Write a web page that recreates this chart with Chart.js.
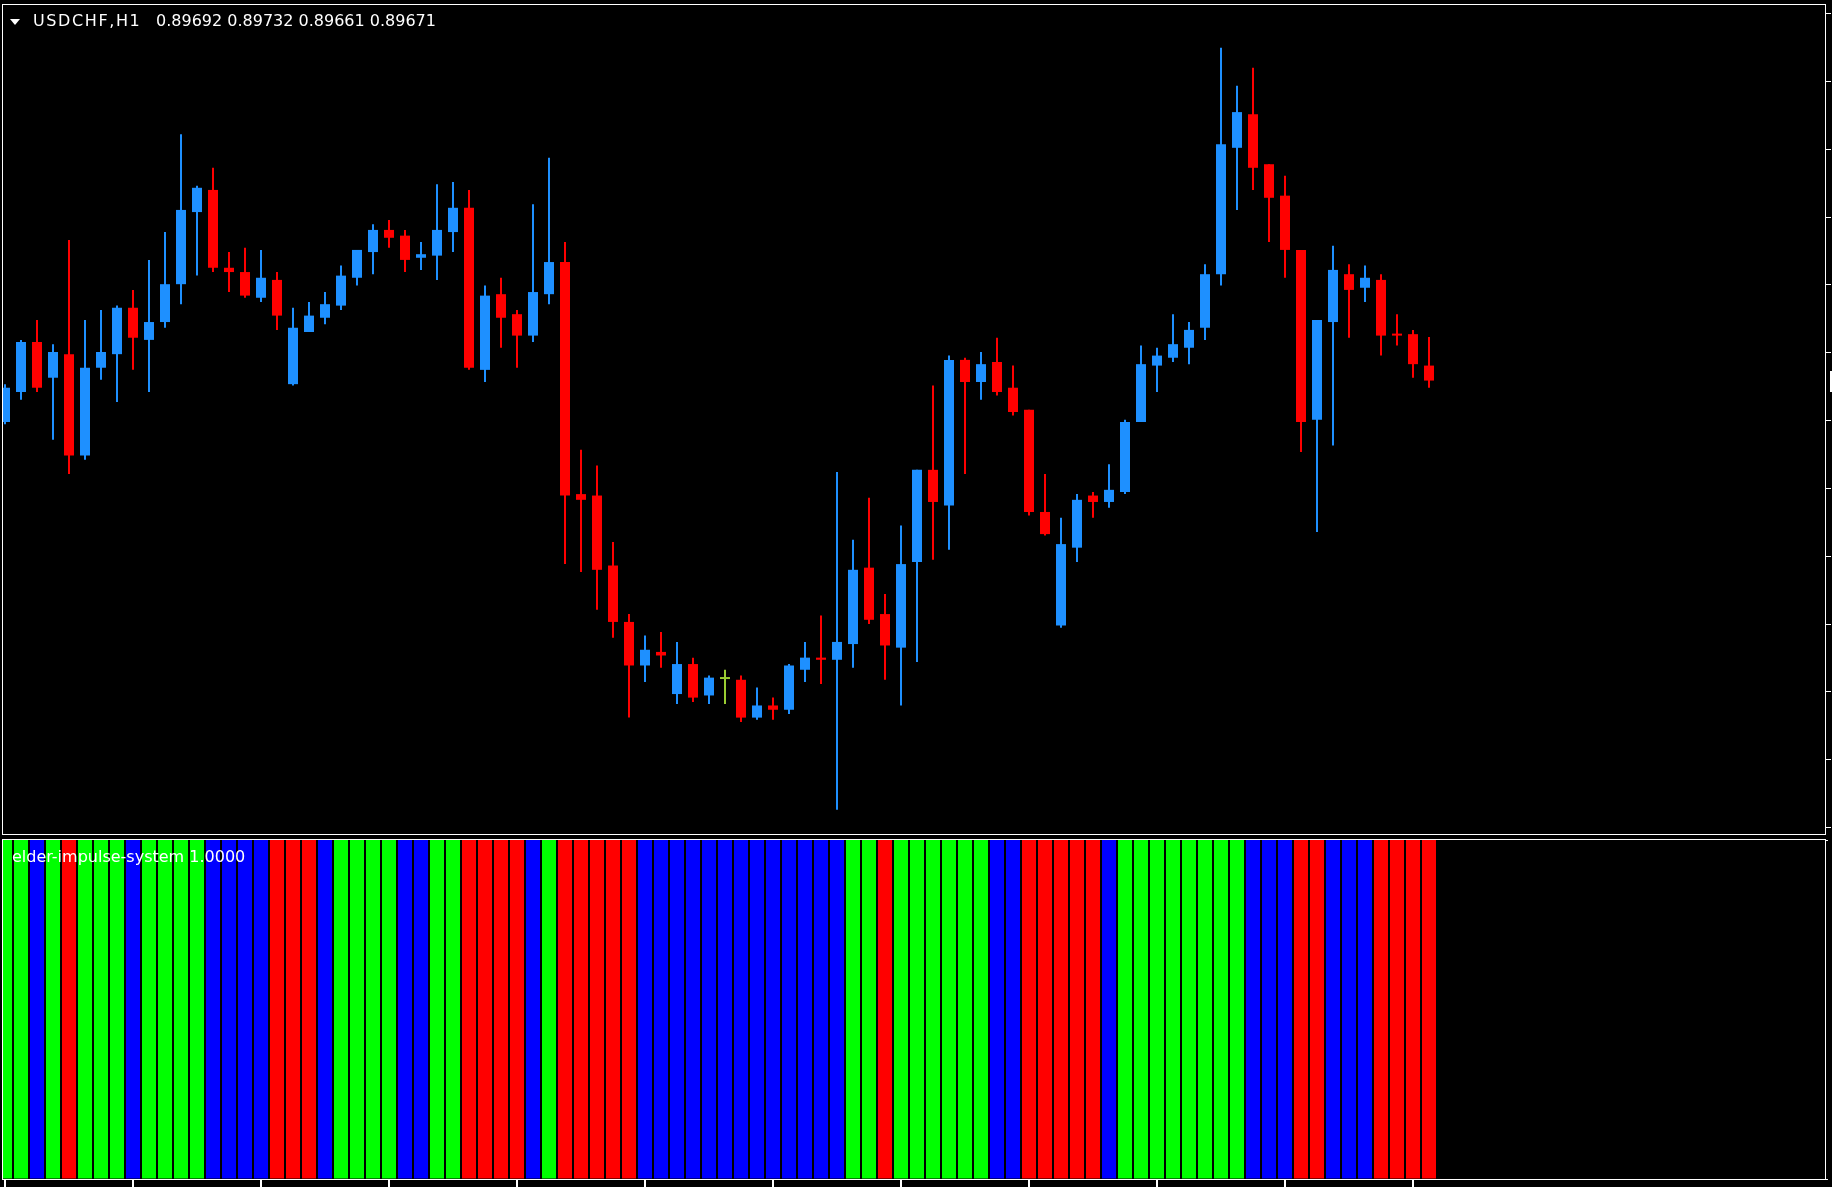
<!DOCTYPE html>
<html>
<head>
<meta charset="utf-8">
<title>USDCHF,H1 - elder-impulse-system</title>
<script src="https://cdn.jsdelivr.net/npm/chart.js@4.4.1/dist/chart.umd.min.js"></script>
<style>
  html, body { margin: 0; padding: 0; background: #000; overflow: hidden; }
  #wrap { position: relative; width: 1832px; height: 1187px; background: #000; }
  #priceBox { position: absolute; left: 0; top: 0; width: 1832px; height: 836px; }
  #impulseBox { position: absolute; left: 0; top: 836px; width: 1832px; height: 351px; }
  .lbl { position: absolute; color: #fff; font-family: "DejaVu Sans", sans-serif; font-size: 16px; line-height: 16px; white-space: pre; z-index: 5; }
  #arrow { position: absolute; left: 10px; top: 19px; width: 0; height: 0; z-index: 5;
           border-left: 5px solid transparent; border-right: 5px solid transparent; border-top: 6px solid #fff; }
</style>
</head>
<body>
<div id="wrap">
  <div id="priceBox"><canvas id="priceChart"></canvas></div>
  <div id="impulseBox"><canvas id="impulseChart"></canvas></div>
  <div id="arrow"></div>
  <div class="lbl" id="symbol" style="left:33px; top:13px; letter-spacing:1.6px;"></div>
  <div class="lbl" id="ohlc" style="left:156px; top:13px;"></div>
  <div class="lbl" id="indName" style="left:12px; top:849px;"></div>
</div>
<script>
// USDCHF H1, 90 bars, oldest first
const symbolName = 'USDCHF,H1';
const openPrices = [
  0.89613, 0.89655, 0.89725, 0.89675, 0.89708, 0.89566, 0.89689, 0.89708, 0.89773, 0.89728,
  0.89753, 0.89806, 0.89907, 0.89938, 0.89829, 0.89823, 0.89787, 0.89812, 0.89666, 0.89739,
  0.89759, 0.89776, 0.89815, 0.89851, 0.89882, 0.89874, 0.89843, 0.89846, 0.89879, 0.89913,
  0.89686, 0.89792, 0.89764, 0.89734, 0.89792, 0.89837, 0.89512, 0.89510, 0.89412, 0.89333,
  0.89272, 0.89291, 0.89232, 0.89274, 0.89230, 0.89253, 0.89252, 0.89199, 0.89216, 0.89210,
  0.89266, 0.89283, 0.89280, 0.89302, 0.89409, 0.89344, 0.89297, 0.89417, 0.89546, 0.89496,
  0.89700, 0.89669, 0.89697, 0.89661, 0.89630, 0.89487, 0.89328, 0.89437, 0.89510, 0.89501,
  0.89515, 0.89613, 0.89692, 0.89703, 0.89717, 0.89745, 0.89820, 0.89997, 0.90044, 0.89974,
  0.89930, 0.89854, 0.89616, 0.89753, 0.89820, 0.89801, 0.89812, 0.89736, 0.89736, 0.89692
];
const highPrices = [
  0.89666, 0.89728, 0.89756, 0.89722, 0.89868, 0.89756, 0.89770, 0.89776, 0.89798, 0.89840,
  0.89879, 0.90016, 0.89944, 0.89969, 0.89851, 0.89857, 0.89854, 0.89823, 0.89773, 0.89781,
  0.89795, 0.89832, 0.89854, 0.89890, 0.89896, 0.89882, 0.89865, 0.89946, 0.89949, 0.89938,
  0.89804, 0.89815, 0.89770, 0.89918, 0.89983, 0.89865, 0.89574, 0.89552, 0.89445, 0.89344,
  0.89314, 0.89319, 0.89305, 0.89283, 0.89258, 0.89266, 0.89258, 0.89241, 0.89227, 0.89274,
  0.89305, 0.89342, 0.89543, 0.89448, 0.89507, 0.89372, 0.89468, 0.89546, 0.89664, 0.89706,
  0.89703, 0.89711, 0.89731, 0.89692, 0.89630, 0.89540, 0.89479, 0.89512, 0.89515, 0.89554,
  0.89616, 0.89720, 0.89717, 0.89764, 0.89753, 0.89834, 0.90137, 0.90084, 0.90109, 0.89974,
  0.89958, 0.89854, 0.89756, 0.89860, 0.89834, 0.89832, 0.89820, 0.89764, 0.89742, 0.89732
];
const lowPrices = [
  0.89610, 0.89644, 0.89655, 0.89588, 0.89540, 0.89560, 0.89672, 0.89641, 0.89686, 0.89655,
  0.89745, 0.89778, 0.89818, 0.89823, 0.89795, 0.89787, 0.89781, 0.89742, 0.89664, 0.89739,
  0.89750, 0.89770, 0.89804, 0.89820, 0.89857, 0.89823, 0.89826, 0.89812, 0.89851, 0.89686,
  0.89669, 0.89717, 0.89689, 0.89725, 0.89778, 0.89414, 0.89403, 0.89350, 0.89311, 0.89199,
  0.89249, 0.89269, 0.89218, 0.89221, 0.89218, 0.89218, 0.89193, 0.89196, 0.89196, 0.89204,
  0.89249, 0.89246, 0.89070, 0.89269, 0.89330, 0.89252, 0.89216, 0.89277, 0.89420, 0.89434,
  0.89540, 0.89644, 0.89650, 0.89622, 0.89482, 0.89454, 0.89325, 0.89417, 0.89479, 0.89493,
  0.89512, 0.89613, 0.89655, 0.89697, 0.89694, 0.89728, 0.89804, 0.89910, 0.89938, 0.89865,
  0.89815, 0.89571, 0.89459, 0.89580, 0.89731, 0.89781, 0.89706, 0.89720, 0.89675, 0.89661
];
const closePrices = [
  0.89661, 0.89725, 0.89661, 0.89711, 0.89566, 0.89689, 0.89711, 0.89773, 0.89731, 0.89753,
  0.89806, 0.89910, 0.89941, 0.89829, 0.89823, 0.89790, 0.89815, 0.89762, 0.89745, 0.89762,
  0.89778, 0.89818, 0.89854, 0.89882, 0.89871, 0.89840, 0.89848, 0.89882, 0.89913, 0.89689,
  0.89790, 0.89759, 0.89734, 0.89795, 0.89837, 0.89510, 0.89504, 0.89406, 0.89333, 0.89272,
  0.89294, 0.89286, 0.89274, 0.89227, 0.89255, 0.89253, 0.89199, 0.89216, 0.89210, 0.89272,
  0.89283, 0.89280, 0.89305, 0.89406, 0.89336, 0.89300, 0.89414, 0.89546, 0.89501, 0.89700,
  0.89669, 0.89694, 0.89655, 0.89627, 0.89487, 0.89456, 0.89442, 0.89504, 0.89501, 0.89518,
  0.89613, 0.89694, 0.89706, 0.89722, 0.89742, 0.89820, 0.90002, 0.90047, 0.89969, 0.89927,
  0.89854, 0.89613, 0.89756, 0.89826, 0.89798, 0.89815, 0.89734, 0.89734, 0.89694, 0.89671
];

// elder impulse system: 1 = bull (green), 0 = neutral (blue), -1 = bear (red)
const impulseName = 'elder-impulse-system';
const impulseValue = 1.0;
const impulseState = [
   1,  1,  0,  1, -1,  1,  1,  1,  0,  1,
   1,  1,  1,  0,  0,  0,  0, -1, -1, -1,
   0,  1,  1,  1,  1,  0,  0,  1,  1, -1,
  -1, -1, -1,  0,  1, -1, -1, -1, -1, -1,
   0,  0,  0,  0,  0,  0,  0,  0,  0,  0,
   0,  0,  0,  1,  1, -1,  1,  1,  1,  1,
   1,  1,  0,  0, -1, -1, -1, -1, -1,  0,
   1,  1,  1,  1,  1,  1,  1,  1,  0,  0,
   0, -1, -1,  0,  0,  0, -1, -1, -1, -1
];

// price scale ticks (labels sit off the right edge) and time ticks every 8 bars
const priceTicks = [0.90185, 0.90090, 0.89995, 0.89900, 0.89805, 0.89710, 0.89615,
                    0.89520, 0.89425, 0.89330, 0.89235, 0.89140, 0.89045];
const timeTickBars = [0, 8, 16, 24, 32, 40, 48, 56, 64, 72, 80, 88];

const upColor = '#1e90ff';
const downColor = '#ff0000';
const dojiColor = '#9acd32';
const impulseColors = { '1': '#00ff00', '0': '#0000ff', '-1': '#ff0000' };

const barIdx = openPrices.map((_, i) => i);
const candleColors = barIdx.map(i =>
  closePrices[i] > openPrices[i] ? upColor : (closePrices[i] < openPrices[i] ? downColor : dojiColor));

// visible bar window: bar 0 sits 2px right of the pane edge, 16px per bar
const xMin = -0.125;
const xMax = 113.75;

// white frame around each pane
const paneFrame = {
  id: 'paneFrame',
  afterDraw(chart) {
    const a = chart.chartArea;
    const c = chart.ctx;
    c.save();
    c.strokeStyle = '#ffffff';
    c.lineWidth = 1;
    c.strokeRect(a.left - 0.5, a.top - 0.5, a.right - a.left + 1, a.bottom - a.top + 1);
    c.restore();
  }
};

// bid label stub at the right edge
const bidMarker = {
  id: 'bidMarker',
  afterDraw(chart) {
    const y = chart.scales.y.getPixelForValue(closePrices[closePrices.length - 1]);
    const c = chart.ctx;
    c.save();
    c.fillStyle = '#ffffff';
    c.fillRect(chart.chartArea.right + 5, Math.round(y) - 10, 4, 21);
    c.restore();
  }
};

Chart.defaults.animation = false;
Chart.defaults.font.family = 'DejaVu Sans';

new Chart(document.getElementById('priceChart'), {
  type: 'bar',
  data: {
    datasets: [
      {
        label: 'body',
        data: barIdx.map(i => ({ x: i, y: [openPrices[i], closePrices[i]] })),
        backgroundColor: candleColors,
        barThickness: 10,
        minBarLength: 2,
        grouped: false,
        borderWidth: 0,
        inflateAmount: 0
      },
      {
        label: 'wick',
        data: barIdx.map(i => ({ x: i, y: [lowPrices[i], highPrices[i]] })),
        backgroundColor: candleColors,
        barThickness: 2,
        grouped: false,
        borderWidth: 0,
        inflateAmount: 0
      }
    ]
  },
  options: {
    responsive: true,
    maintainAspectRatio: false,
    layout: { padding: { left: 3, top: 5, right: 0, bottom: 2 } },
    plugins: { legend: { display: false }, tooltip: { enabled: false } },
    scales: {
      x: { type: 'linear', min: xMin, max: xMax, offset: false, display: false },
      y: {
        position: 'right',
        min: 0.89036,
        max: 0.90197,
        border: { display: false },
        grid: { drawOnChartArea: false, drawTicks: true, tickLength: 6, color: '#ffffff', lineWidth: 1 },
        ticks: { display: false },
        afterBuildTicks: scale => { scale.ticks = priceTicks.map(v => ({ value: v })); },
        afterFit: scale => { scale.width = 7; }
      }
    }
  },
  plugins: [paneFrame, bidMarker]
});

new Chart(document.getElementById('impulseChart'), {
  type: 'bar',
  data: {
    datasets: [{
      label: impulseName,
      data: barIdx.map(i => ({ x: i, y: impulseValue })),
      backgroundColor: impulseState.map(s => impulseColors[String(s)]),
      barThickness: 14,
      borderWidth: 0,
      inflateAmount: 0
    }]
  },
  options: {
    responsive: true,
    maintainAspectRatio: false,
    layout: { padding: { left: 3, top: 4, right: 0, bottom: 0 } },
    plugins: { legend: { display: false }, tooltip: { enabled: false } },
    scales: {
      x: {
        type: 'linear',
        min: xMin,
        max: xMax,
        offset: false,
        position: 'bottom',
        border: { display: false },
        grid: { offset: false, drawOnChartArea: false, drawTicks: true, tickLength: 8, color: '#ffffff', lineWidth: 2 },
        ticks: { display: false },
        afterBuildTicks: scale => { scale.ticks = timeTickBars.map(v => ({ value: v })); },
        afterFit: scale => { scale.height = 8; }
      },
      y: {
        position: 'right',
        min: 0,
        max: 1,
        border: { display: false },
        grid: { drawOnChartArea: false, drawTicks: true, tickLength: 3, color: '#ffffff', lineWidth: 1 },
        ticks: { display: false },
        afterBuildTicks: scale => { scale.ticks = [{ value: 0 }, { value: 1 }]; },
        afterFit: scale => { scale.width = 7; }
      }
    }
  },
  plugins: [paneFrame]
});

// captions
const last = openPrices.length - 1;
document.getElementById('symbol').textContent = symbolName;
document.getElementById('ohlc').textContent =
  [openPrices[last], highPrices[last], lowPrices[last], closePrices[last]].map(v => v.toFixed(5)).join(' ');
document.getElementById('indName').textContent = impulseName + ' ' + impulseValue.toFixed(4);
</script>
</body>
</html>
